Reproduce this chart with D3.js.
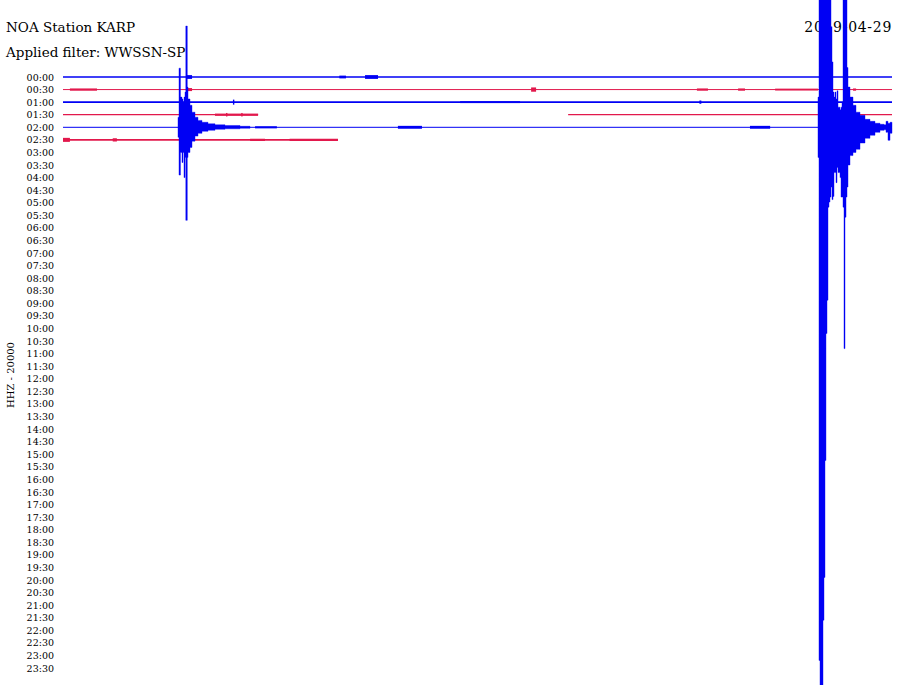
<!DOCTYPE html>
<html><head><meta charset="utf-8">
<script src="https://cdn.jsdelivr.net/npm/d3@7"></script>
<style>html,body{margin:0;padding:0;background:#fff}svg{display:block}</style>
</head><body>
<script>
// ---------------- DATA ----------------
const stationTitle = "NOA Station KARP";
const filterTitle = "Applied filter: WWSSN-SP";
const dateLabel = "2019-04-29";
const channelLabel = "HHZ - 20000";
const rowLabels = ["00:00","00:30","01:00","01:30","02:00","02:30","03:00","03:30","04:00","04:30",
  "05:00","05:30","06:00","06:30","07:00","07:30","08:00","08:30","09:00","09:30",
  "10:00","10:30","11:00","11:30","12:00","12:30","13:00","13:30","14:00","14:30",
  "15:00","15:30","16:00","16:30","17:00","17:30","18:00","18:30","19:00","19:30",
  "20:00","20:30","21:00","21:30","22:00","22:30","23:00","23:30"];
const minutesPerRow = 30;
const countsPerRow = 20000;
// recorded data spans: [row, startMinute, endMinute]
const recordedSpans = [[0,0,30],[1,0,30],[2,0,30],[3,0,7.06],[3,18.28,30],[4,0,30],[5,0,9.95]];
// background noise half-amplitude (counts) per recorded row
const rowNoise = [1300, 500, 1300, 1000, 450, 1400];
// short noise bursts: [row, startMinute, endMinute, halfAmplitude counts]
const noiseBursts = [
  [0,4.45,4.67,3000],[0,10.0,10.24,2200],[0,10.93,11.4,3000],
  [1,0.25,1.23,1800],[1,4.52,4.67,2400],[1,16.94,17.12,3400],[1,22.94,23.34,1800],
  [1,24.43,24.68,1800],[1,25.77,27.32,1500],[1,28.59,28.7,1800],
  [2,6.15,6.2,4000],[2,14.37,16.54,1500],[2,23.03,23.1,2600],
  [3,5.5,7.06,1800],[3,5.9,5.95,2800],[3,6.45,6.5,2800],
  [4,6.95,7.74,1700],[4,12.12,12.99,2300],[4,24.86,25.59,2300],
  [5,0,0.25,3200],[5,1.8,1.95,2600],[5,6.77,7.31,1800],[5,8.2,9.95,1800]
];
// earthquake envelopes on row 02:00: [minute, up counts, down counts]
const eventRow = 4;
const eventA = [
  [4.162,16000,16000],[4.198,94000,76000],[4.250,48000,40000],[4.306,45000,56000],
  [4.343,40000,40000],[4.379,48000,80000],[4.415,56000,48000],[4.444,161000,148000],
  [4.498,64000,48000],[4.524,45000,40000],[4.596,35000,32000],[4.668,24000,22000],
  [4.777,16000,14000],[4.885,11000,9600],[5.030,8000,6400],[5.247,5600,4800],
  [5.501,4000,3200],[5.863,2900,2400],[6.405,1600,1600],[6.767,0,0]
];
const eventB = [
  [27.322,48000,48000],[27.358,320000,848000],[27.395,320000,890000],[27.503,320000,784000],
  [27.539,320000,716000],[27.575,320000,530000],[27.611,320000,328000],[27.648,320000,275000],
  [27.684,320000,127000],[27.720,320000,119000],[27.756,210000,111000],[27.793,160000,95000],
  [27.829,104000,115000],[27.865,56000,110000],[27.901,48000,72000],[27.937,56000,72000],
  [27.974,45000,88000],[28.010,58000,64000],[28.046,32000,72000],[28.119,28000,80000],
  [28.155,32000,111000],[28.191,40000,111000],[28.227,320000,127000],[28.263,320000,352000],
  [28.299,320000,143000],[28.336,320000,111000],[28.372,95000,95000],[28.408,64000,60000],
  [28.480,48000,45000],[28.589,35000,40000],[28.697,24000,35000],[28.842,19000,25000],
  [29.023,12700,17500],[29.204,9500,12700],[29.385,6400,8000],[29.566,4800,4800],
  [29.711,4000,4000],[29.783,9500,8000],[29.855,6400,20700],[29.928,8000,9500],[30.0,0,0]
];
// ---------------- CHART ----------------
const W = 900, H = 685;
const blue = "#0000f4", red = "#e2184c";
const rowColor = i => (i % 2 === 0 ? blue : red);
const svg = d3.select("body").append("svg").attr("width", W).attr("height", H);
const x = d3.scaleLinear().domain([0, minutesPerRow]).range([63, 892]);
const y = d3.scalePoint().domain(rowLabels).range([77, 668]);
const rowStep = y.step();
const amp = d3.scaleLinear().domain([0, countsPerRow]).range([0, rowStep]);
const serif = "'DejaVu Serif',serif";

svg.append("text").attr("x", 6).attr("y", 32).attr("font-family", serif).attr("font-size", 13.5).text(stationTitle);
svg.append("text").attr("x", 6).attr("y", 57).attr("font-family", serif).attr("font-size", 13.5).text(filterTitle);
svg.append("text").attr("x", 892).attr("y", 32).attr("text-anchor", "end").attr("font-family", serif)
  .attr("font-size", 14).attr("letter-spacing", 0.7).text(dateLabel);
svg.append("text").attr("transform", "translate(14,375) rotate(-90)").attr("text-anchor", "middle")
  .attr("font-family", serif).attr("font-size", 10).text(channelLabel);

const yAxis = d3.axisLeft(y).tickSize(0).tickPadding(0);
const ag = svg.append("g").attr("transform", "translate(54,0)").call(yAxis);
ag.select(".domain").remove();
ag.selectAll("text").attr("font-family", serif).attr("font-size", 9.5).attr("fill", "#000");

const traces = svg.append("g");
// baselines
traces.selectAll("line.base").data(recordedSpans).join("line")
  .attr("x1", d => x(d[1])).attr("x2", d => x(d[2]))
  .attr("y1", d => y(rowLabels[d[0]])).attr("y2", d => y(rowLabels[d[0]]))
  .attr("stroke", d => rowColor(d[0]))
  .attr("stroke-width", d => Math.max(1, 2 * amp(rowNoise[d[0]])));
// noise bursts
traces.selectAll("rect.burst").data(noiseBursts).join("rect")
  .attr("x", d => x(d[1])).attr("width", d => Math.max(1, x(d[2]) - x(d[1])))
  .attr("y", d => y(rowLabels[d[0]]) - amp(d[3])).attr("height", d => 2 * amp(d[3]))
  .attr("fill", d => rowColor(d[0]));
// events
const y0row = y(rowLabels[eventRow]);
const area = d3.area().curve(d3.curveStepAfter)
  .x(d => x(d[0])).y0(d => y0row + amp(d[2])).y1(d => y0row - amp(d[1]));
traces.selectAll("path.event").data([eventA, eventB]).join("path")
  .attr("d", area).attr("fill", rowColor(eventRow)).attr("stroke", rowColor(eventRow)).attr("stroke-width", 0.4);
</script>
</body></html>
